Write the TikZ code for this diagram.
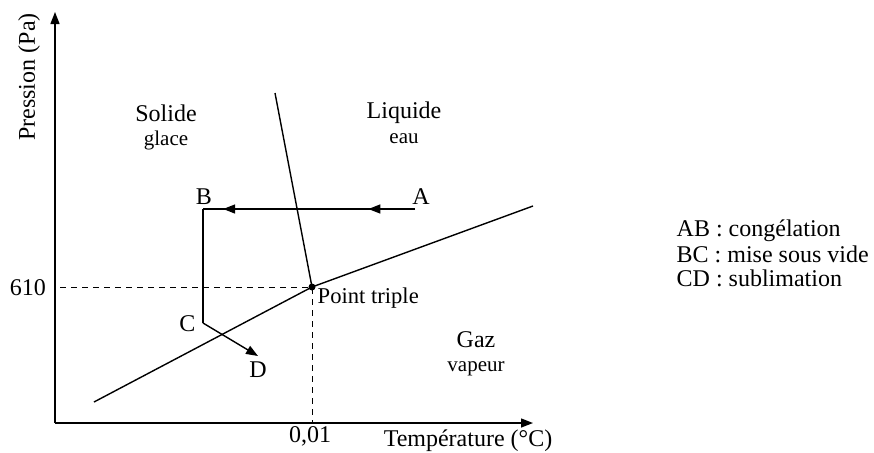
\documentclass[tikz,border=0pt]{standalone}
\usepackage{fontspec}
\setmainfont{Liberation Serif}
\usetikzlibrary{arrows.meta,positioning,decorations.markings}

\begin{document}
\begin{tikzpicture}[
x=0.5pt, y=-0.5pt,
line width=0.7pt,
tip/.style={-{Triangle[length=6pt,width=4.5pt]}},
lab/.style={font=\fontsize{12}{14}\selectfont, inner sep=0pt},
sublab/.style={font=\fontsize{10.5}{12}\selectfont, inner sep=0pt},
twoarrows/.style={postaction={decorate}, decoration={markings,
  mark=at position 0.22 with {\arrow{Triangle[length=6pt,width=4.5pt]}},
  mark=at position 0.905 with {\arrow{Triangle[length=6pt,width=4.5pt]}}}}
]
\useasboundingbox (0,0) rectangle (874,452);

% points
\coordinate (O) at (55,423);
\coordinate (ytop) at (55,12);
\coordinate (xend) at (533,423);
\coordinate (tp) at (312,287);
\coordinate (p610) at (60,287);
\coordinate (p001) at (312,423);
\coordinate (fus) at (275,93);
\coordinate (subl) at (94,402);
\coordinate (vap) at (533,206);
\coordinate (A) at (415,209);
\coordinate (B) at (203,209);
\coordinate (C) at (203,323);
\coordinate (D) at (258,356);

% axes
\draw[tip] (O) -- (ytop);
\draw[tip] (O) -- (xend);
\node[lab, rotate=90] (ylab) at (29,77) {Pression (Pa)};
\node[lab] (xlab) at (468,441) {Température (°C)};

% dashed guides
\draw[line width=0.45pt, dash pattern=on 3pt off 2.5pt] (p610) -- (tp) -- (p001);
\node[lab] (v610) at (28,288) {610};
\node[lab] (v001) at (310,436) {0,01};

% phase boundaries
\draw (fus) -- (tp);
\draw (subl) -- (tp) -- (vap);
\fill (tp) circle (3.5);
\node[sublab, font=\fontsize{11.3}{13}\selectfont, anchor=west] (tplab) at (317,298) {Point triple};

% phases
\node[lab] (sol) at (166,113) {Solide};
\node[sublab, below=4pt of sol] (glace) {glace};
\node[lab] (liq) at (404,113) {Liquide};
\node[sublab, below=4pt of liq] (eau) {eau};
\node[lab] (gaz) at (476,340) {Gaz};
\node[sublab, below=6pt of gaz] (vapeur) {vapeur};

% path A -> B -> C -> D
\draw[twoarrows] (A) -- (B);
\draw (B) -- (C);
\draw[tip] (C) -- (D);
\node[lab] (Alab) at (421,197) {A};
\node[lab] (Blab) at (204,197) {B};
\node[lab, anchor=east] (Clab) at (196,324) {C};
\node[lab] (Dlab) at (258,370) {D};

% legend
\node[lab, anchor=base west] (leg1) at (676,236) {AB : congélation};
\node[lab, anchor=base west] (leg2) at (676,262) {BC : mise sous vide};
\node[lab, anchor=base west] (leg3) at (676,286) {CD : sublimation};
\end{tikzpicture}
\end{document}
